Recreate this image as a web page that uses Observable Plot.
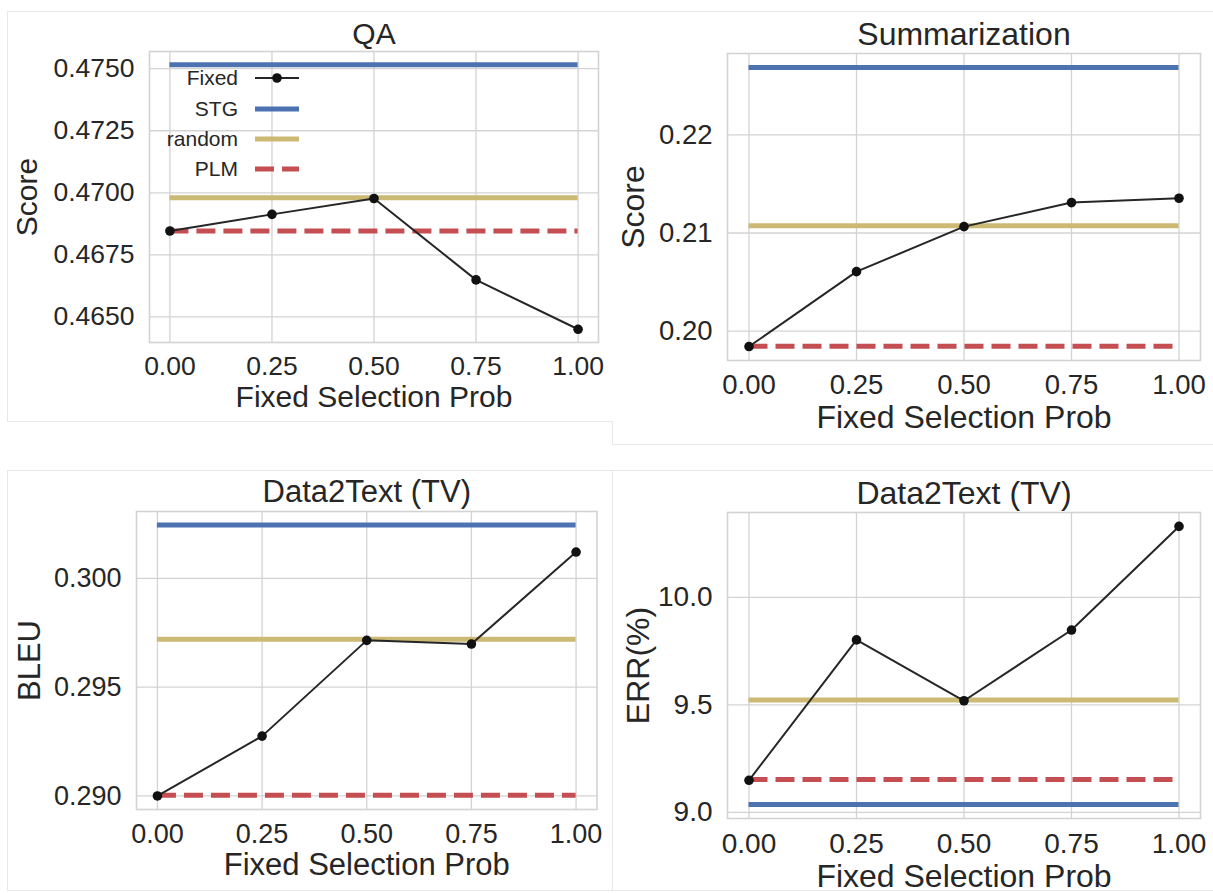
<!DOCTYPE html>
<html><head><meta charset="utf-8">
<script src="https://cdn.jsdelivr.net/npm/d3@7"></script>
<script src="https://cdn.jsdelivr.net/npm/@observablehq/plot@0.6"></script>
<style>
body{margin:0;background:#fff;font-family:"Liberation Sans",Arial,sans-serif;color:#262626}
#root{position:relative;width:1213px;height:893px;overflow:hidden;background:#fff}
.box{position:absolute;border:1px solid #e8e8e8;background:#fff;box-sizing:border-box}
.panel{position:absolute}
.legend{position:absolute;font-size:21px;color:#262626}
.legend .row{position:absolute;height:30px;display:flex;align-items:center}
</style></head>
<body><div id="root"></div>
<script>
// ---- data ----
const probs = [0, 0.25, 0.5, 0.75, 1.0];
const xTickLabels = [0, 0.25, 0.5, 0.75, 1.0];
const methods = ["Fixed", "STG", "random", "PLM"];

const qaFixed = [0.46846, 0.46913, 0.46977, 0.46649, 0.46450];
const qaSTG = 0.47516, qaRandom = 0.46980, qaPLM = 0.46846;
const qaTicks = [0.4650, 0.4675, 0.4700, 0.4725, 0.4750];

const sumFixed = [0.19843, 0.20606, 0.21065, 0.21310, 0.21354];
const sumSTG = 0.22687, sumRandom = 0.21075, sumPLM = 0.19847;
const sumTicks = [0.20, 0.21, 0.22];

const bleuFixed = [0.29000, 0.29275, 0.29715, 0.29698, 0.30121];
const bleuSTG = 0.30245, bleuRandom = 0.29720, bleuPLM = 0.29003;
const bleuTicks = [0.290, 0.295, 0.300];

const errFixed = [9.149, 9.802, 9.519, 9.848, 10.330];
const errSTG = 9.036, errRandom = 9.523, errPLM = 9.1525;
const errTicks = [9.0, 9.5, 10.0];

const colors = {Fixed: "#262626", STG: "#4C72B0", random: "#CCB974", PLM: "#C44E52"};
const gridColor = "#d3d3d3";
const font = '"Liberation Sans", Arial, sans-serif';

const root = document.getElementById("root");

// faint screenshot borders
function box(l, t, w, h, extra) {
  const d = document.createElement("div");
  d.className = "box";
  Object.assign(d.style, {left: l + "px", top: t + "px", width: w + "px", height: h + "px"}, extra || {});
  root.appendChild(d);
}
box(612, 11, 620, 434);
box(7, 11, 606, 411, {borderRight: "none"});
box(7, 470, 606, 421, {borderRight: "none"});
box(612, 470, 620, 421);

function panel(c) {
  const fixed = probs.map((p, i) => ({p, v: c.fixed[i]}));
  const all = c.fixed.concat([c.stg, c.random, c.plm]);
  const lo = d3.min(all), hi = d3.max(all), pad = (hi - lo) * 0.05;
  const svg = Plot.plot({
    width: c.w, height: c.h,
    marginLeft: c.mL, marginRight: c.mR, marginTop: c.mT, marginBottom: c.mB,
    style: {fontFamily: font, color: "#262626", background: "transparent", overflow: "visible", maxWidth: "none"},
    x: {domain: [-0.05, 1.05]},
    y: {domain: [lo - pad, hi + pad]},
    marks: [
      Plot.gridX({ticks: xTickLabels, stroke: gridColor, strokeOpacity: 1, strokeWidth: 1.3}),
      Plot.gridY({ticks: c.ticks, stroke: gridColor, strokeOpacity: 1, strokeWidth: 1.3}),
      Plot.frame({stroke: gridColor, strokeWidth: 1.6}),
      Plot.axisX({ticks: xTickLabels, tickSize: 0, tickPadding: c.xPad, fontSize: c.tick, tickFormat: d3.format(".2f"), label: null}),
      Plot.axisY({ticks: c.ticks, tickSize: 0, tickPadding: 15, fontSize: c.tick, tickFormat: d3.format(c.fmt), label: null}),
      Plot.ruleY([c.stg], {x1: 0, x2: 1, stroke: colors.STG, strokeWidth: 5}),
      Plot.ruleY([c.random], {x1: 0, x2: 1, stroke: colors.random, strokeWidth: 5}),
      Plot.ruleY([c.plm], {x1: 0, x2: 1, stroke: colors.PLM, strokeWidth: 5, strokeDasharray: "19,8"}),
      Plot.line(fixed, {x: "p", y: "v", stroke: colors.Fixed, strokeWidth: 2}),
      Plot.dot(fixed, {x: "p", y: "v", r: 4.8, fill: "#111", stroke: "none"}),
      Plot.text([c.title], {frameAnchor: "top", dy: c.titleDy, fontSize: c.label, textAnchor: "middle", lineAnchor: "middle", fill: "#262626"}),
      Plot.text(["Fixed Selection Prob"], {frameAnchor: "bottom", dy: c.xlDy, fontSize: c.label, textAnchor: "middle", lineAnchor: "middle", fill: "#262626"}),
      Plot.text([c.ylabel], {frameAnchor: "left", dx: c.ylDx, rotate: -90, fontSize: c.label, textAnchor: "middle", lineAnchor: "middle", fill: "#262626"})
    ]
  });
  const wrap = document.createElement("div");
  wrap.className = "panel";
  wrap.style.left = c.left + "px";
  wrap.style.top = c.top + "px";
  wrap.appendChild(svg);
  root.appendChild(wrap);
}

panel({left: 0, top: 0, w: 612, h: 440, mL: 149, mR: 14, mT: 51, mB: 98,
  tick: 26.5, label: 30, xPad: 13.5, titleDy: -17, xlDy: 55, ylDx: -122,
  title: "QA", ylabel: "Score", fixed: qaFixed, stg: qaSTG, random: qaRandom, plm: qaPLM, ticks: qaTicks, fmt: ".4f"});
panel({left: 612, top: 0, w: 601, h: 450, mL: 115, mR: 13, mT: 53, mB: 90,
  tick: 27.5, label: 32, xPad: 13.5, titleDy: -19, xlDy: 57, ylDx: -94,
  title: "Summarization", ylabel: "Score", fixed: sumFixed, stg: sumSTG, random: sumRandom, plm: sumPLM, ticks: sumTicks, fmt: ".2f"});
panel({left: 0, top: 460, w: 612, h: 433, mL: 136, mR: 15.5, mT: 51, mB: 84,
  tick: 27, label: 31, xPad: 14, titleDy: -19, xlDy: 56, ylDx: -106,
  title: "Data2Text (TV)", ylabel: "BLEU", fixed: bleuFixed, stg: bleuSTG, random: bleuRandom, plm: bleuPLM, ticks: bleuTicks, fmt: ".3f"});
panel({left: 612, top: 460, w: 601, h: 433, mL: 115, mR: 13, mT: 52, mB: 75,
  tick: 28, label: 32, xPad: 15, titleDy: -19, xlDy: 58, ylDx: -89,
  title: "Data2Text (TV)", ylabel: "ERR(%)", fixed: errFixed, stg: errSTG, random: errRandom, plm: errPLM, ticks: errTicks, fmt: ".1f"});

// legend (inside QA panel, no frame)
const legend = document.createElement("div");
legend.className = "legend";
legend.style.left = "0px"; legend.style.top = "0px";
root.appendChild(legend);
const rowTops = [63, 93.5, 124, 154];
methods.forEach((m, i) => {
  const row = document.createElement("div");
  row.className = "row";
  row.style.top = rowTops[i] + "px";
  row.style.left = "120px";
  const lab = document.createElement("span");
  lab.textContent = m;
  lab.style.cssText = "display:inline-block;width:118px;text-align:right;";
  row.appendChild(lab);
  const s = d3.create("svg").attr("width", 44).attr("height", 14).style("margin-left", "17px").style("display", "block");
  if (m === "Fixed") {
    s.append("line").attr("x1", 0).attr("x2", 44).attr("y1", 7).attr("y2", 7).attr("stroke", colors.Fixed).attr("stroke-width", 2);
    s.append("circle").attr("cx", 22).attr("cy", 7).attr("r", 4.8).attr("fill", "#111");
  } else {
    s.append("line").attr("x1", 0).attr("x2", 44).attr("y1", 7).attr("y2", 7).attr("stroke", colors[m]).attr("stroke-width", 5)
      .attr("stroke-dasharray", m === "PLM" ? "19,8" : null);
  }
  row.appendChild(s.node());
  legend.appendChild(row);
});
</script>
</body></html>
